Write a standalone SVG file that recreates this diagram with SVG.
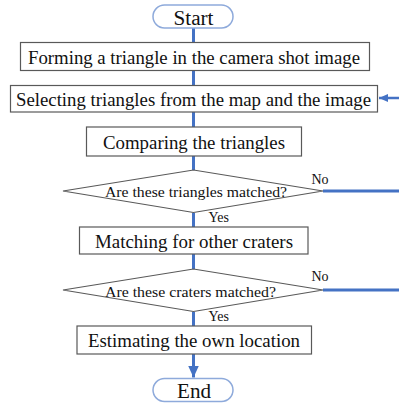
<svg xmlns="http://www.w3.org/2000/svg" width="399" height="405" viewBox="0 0 399 405">
<style>
.box{fill:#fff;stroke:#595959;stroke-width:1.2}
.term{fill:#fff;stroke:#8eaadb;stroke-width:1.5}
.t{font-family:"Liberation Serif",serif;fill:#111;text-anchor:middle}
.big{font-size:19px}
.term-t{font-size:20px}
.dt{font-size:14.5px}
.lbl{font-family:"Liberation Serif",serif;fill:#111;font-size:14px}
.c{stroke:#4472c4;stroke-width:3;fill:none}
</style>
<defs>
<marker id="ah" viewBox="0 0 12 11" refX="12" refY="5.5" markerWidth="4" markerHeight="3.67" orient="auto" markerUnits="strokeWidth">
<path d="M0,0 L12,5.5 L0,11 z" fill="#4472c4"/>
</marker>
<marker id="ah2" viewBox="0 0 9 8" refX="9" refY="4" markerWidth="3.6" markerHeight="3.2" orient="auto" markerUnits="strokeWidth">
<path d="M0,0 L9,4 L0,8 z" fill="#4472c4"/>
</marker>
</defs>
<g id="connectors">
<line class="c" x1="193.5" y1="28" x2="193.5" y2="42"/>
<line class="c" x1="193.5" y1="70" x2="193.5" y2="85"/>
<line class="c" x1="193.5" y1="112" x2="193.5" y2="127"/>
<line class="c" x1="193.5" y1="156" x2="193.5" y2="170"/>
<line class="c" x1="193.5" y1="213" x2="193.5" y2="227"/>
<line class="c" x1="193.5" y1="254" x2="193.5" y2="269"/>
<line class="c" x1="193.5" y1="312" x2="193.5" y2="326"/>
<line class="c" x1="193.5" y1="354" x2="193.5" y2="377.5" marker-end="url(#ah)"/>
<line class="c" x1="323" y1="191" x2="399" y2="191"/>
<line class="c" x1="323" y1="290" x2="399" y2="290"/>
<line class="c" x1="399" y1="98" x2="379" y2="98" style="stroke-width:2.5" marker-end="url(#ah2)"/>
<text class="lbl" x="311.5" y="184">No</text>
<text class="lbl" x="208.5" y="222">Yes</text>
<text class="lbl" x="311.5" y="281">No</text>
<text class="lbl" x="208.5" y="321">Yes</text>
</g>
<g id="start">
<rect class="term" x="153" y="5" width="80" height="23" rx="11.5"/>
<text class="t term-t" x="193.5" y="24.5" textLength="40" lengthAdjust="spacingAndGlyphs">Start</text>
</g>
<g id="form">
<rect class="box" x="20.5" y="42.5" width="349" height="28"/>
<text class="t big" x="194" y="63.5" textLength="332" lengthAdjust="spacingAndGlyphs">Forming a triangle in the camera shot image</text>
</g>
<g id="select">
<rect class="box" x="10.5" y="85.5" width="367" height="26.5"/>
<text class="t big" x="193.5" y="106" textLength="355" lengthAdjust="spacingAndGlyphs">Selecting triangles from the map and the image</text>
</g>
<g id="compare">
<rect class="box" x="86.5" y="127" width="215" height="29"/>
<text class="t big" x="194" y="148.5" textLength="182" lengthAdjust="spacingAndGlyphs">Comparing the triangles</text>
</g>
<g id="decision1">
<polygon class="box" points="63,191 193.5,170 323,191 193.5,212.5"/>
<text class="t dt" x="196" y="197" textLength="182" lengthAdjust="spacingAndGlyphs">Are these triangles matched?</text>
</g>
<g id="match">
<rect class="box" x="79.5" y="227" width="228.5" height="27"/>
<text class="t big" x="194" y="247.5" textLength="198" lengthAdjust="spacingAndGlyphs">Matching for other craters</text>
</g>
<g id="decision2">
<polygon class="box" points="63,290 193.5,269 323,290 193.5,311.5"/>
<text class="t dt" x="190.5" y="296.5" textLength="171" lengthAdjust="spacingAndGlyphs">Are these craters matched?</text>
</g>
<g id="estimate">
<rect class="box" x="77" y="326" width="234.5" height="28"/>
<text class="t big" x="194" y="347" textLength="212" lengthAdjust="spacingAndGlyphs">Estimating the own location</text>
</g>
<g id="end">
<rect class="term" x="153" y="378.5" width="80" height="23" rx="11.5"/>
<text class="t term-t" x="194" y="398" textLength="34" lengthAdjust="spacingAndGlyphs">End</text>
</g>
</svg>
